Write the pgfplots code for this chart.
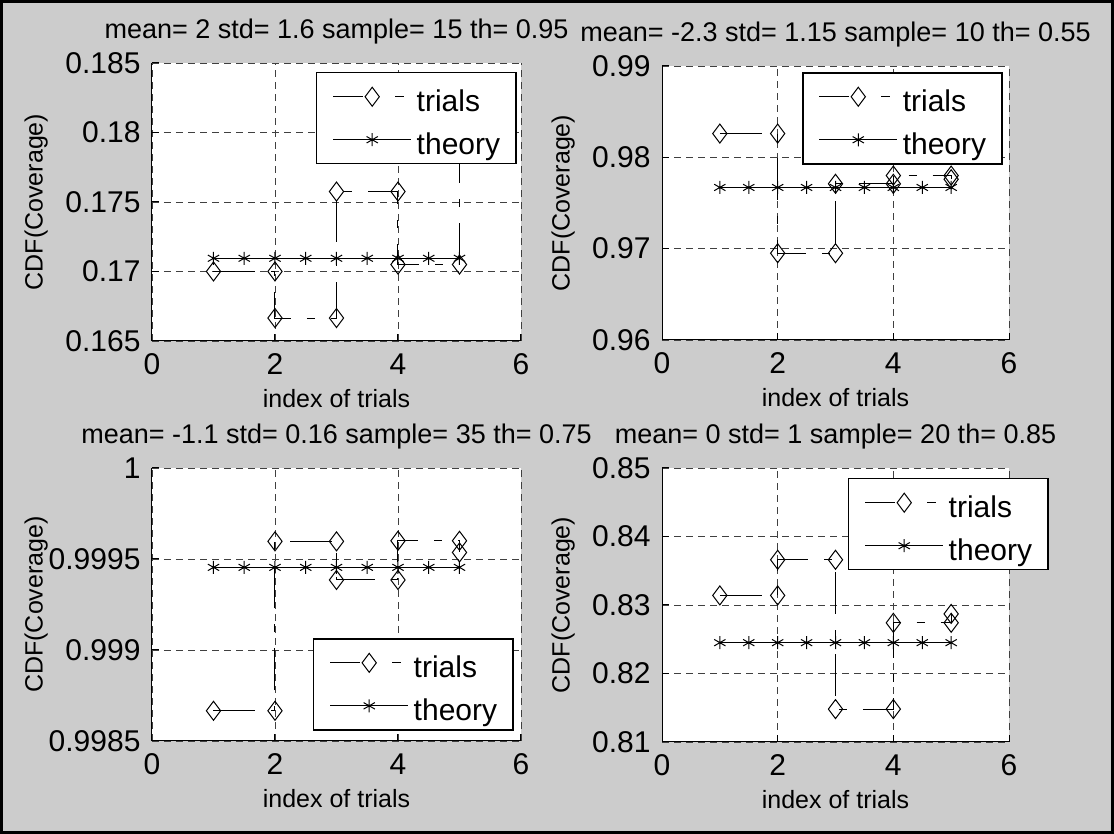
\documentclass[border=0pt]{standalone}
\usepackage{fontspec}
\setmainfont{Liberation Sans}
\usepackage{pgfplots}
\pgfplotsset{compat=1.18}

\definecolor{figbg}{RGB}{204,204,204}
\definecolor{gridc}{RGB}{64,64,64}

\newcommand{\ticksize}{\fontsize{30}{35}\selectfont}
\newcommand{\labsize}{\fontsize{25}{30}\selectfont}
\newcommand{\titsize}{\fontsize{27}{32}\selectfont}

\pgfplotsset{
  panel/.style={
    scale only axis,
    anchor=south west,
    axis background/.style={fill=white},
    xmin=0, xmax=6,
    xtick={0,2,4,6}, xticklabels={0,2,4,6},
    scaled y ticks=false,
    axis x line*=bottom, axis y line*=left,
    axis line style={-, black, line width=1pt},
    tick align=inside,
    major tick length=7pt,
    tick style={black, line width=1pt},
    grid=major,
    major grid style={gridc, line width=0.9pt, dash pattern=on 7pt off 5pt},
    tick label style={font=\ticksize},
    xticklabel style={yshift=-9pt},
    yticklabel style={xshift=-8pt},
    label style={font=\labsize},
    xlabel style={at={(axis description cs:0.5,0)}, anchor=north, yshift=-45pt},
    title style={font=\titsize, anchor=base, yshift=18pt},
    xlabel={index of trials},
    ylabel={CDF(Coverage)},
    legend cell align=left,
    legend style={
      draw=black, line width=1.5pt, fill=white,
      inner xsep=16pt, inner ysep=9pt,
      font=\ticksize,
      row sep=13pt,
      nodes={inner sep=0pt, text height=30pt, text depth=0pt},
      /tikz/every odd column/.style={column sep=5pt},
    },
  },
  leftcol/.style={ylabel style={at={(axis description cs:-0.314,0.5)}, anchor=center}},
  rightcol/.style={ylabel style={at={(axis description cs:-0.285,0.5)}, anchor=center}},
  trials/.style={
    black, line width=1pt,
    dash pattern=on 42pt off 16pt on 8pt off 16pt,
    mark=diamond, mark size=9.5pt,
    mark options={solid, line width=1pt},
    legend image code/.code={
      \draw[##1, solid] (0pt,0pt) -- (30pt,0pt);
      \draw[##1, solid] (62pt,0pt) -- (71pt,0pt);
      \draw[##1, solid] plot[only marks] coordinates {(39pt,0pt)};
    },
  },
  theory/.style={
    black, line width=1pt, solid,
    mark=asterisk, mark size=6.5pt,
    mark options={solid, line width=1pt},
    legend image code/.code={
      \draw[##1, mark repeat=2, mark phase=2]
        plot coordinates {(0pt,0pt) (39pt,0pt) (78pt,0pt)};
    },
  },
}

\begin{document}
\begin{tikzpicture}
\useasboundingbox (0pt,0pt) rectangle (1114pt,834pt);
\fill[figbg] (0pt,0pt) rectangle (1114pt,834pt);
\draw[black, line width=3pt] (1.5pt,1.5pt) rectangle (1112.5pt,832.5pt);

% upper left panel
\begin{axis}[panel, leftcol, at={(152pt,493pt)}, width=369pt, height=278pt,
  ymin=0.165, ymax=0.185, ytick={0.165,0.17,0.175,0.18,0.185},
  yticklabels={0.165,0.17,0.175,0.18,0.185},
  title={mean= 2 std= 1.6 sample= 15 th= 0.95},
  legend style={at={(0.4444,0.9676)}, anchor=north west}]
\addplot[trials] coordinates {
  (1,0.17000) (2,0.17000) (2,0.16665) (3,0.16665) (3,0.17575)
  (4,0.17575) (4,0.17050) (5,0.17050) (5,0.18100)};
\addlegendentry{trials}
\addplot[theory] coordinates {
  (1,0.17095) (1.5,0.17095) (2,0.17095) (2.5,0.17095) (3,0.17095)
  (3.5,0.17095) (4,0.17095) (4.5,0.17095) (5,0.17095)};
\addlegendentry{theory}
\end{axis}

% upper right panel
\begin{axis}[panel, rightcol, at={(662pt,494pt)}, width=347pt, height=274pt,
  ymin=0.96, ymax=0.99, ytick={0.96,0.97,0.98,0.99},
  yticklabels={0.96,0.97,0.98,0.99},
  title={mean= -2.3 std= 1.15 sample= 10 th= 0.55},
  legend style={at={(0.4035,0.978)}, anchor=north west}]
\addplot[trials] coordinates {
  (1,0.9826) (2,0.9826) (2,0.9695) (3,0.9695) (3,0.9771)
  (4,0.9771) (4,0.9780) (5,0.9780) (5,0.9776)};
\addlegendentry{trials}
\addplot[theory] coordinates {
  (1,0.9767) (1.5,0.9767) (2,0.9767) (2.5,0.9767) (3,0.9767)
  (3.5,0.9767) (4,0.9767) (4.5,0.9767) (5,0.9767)};
\addlegendentry{theory}
\end{axis}

% lower left panel
\begin{axis}[panel, leftcol, at={(152pt,93pt)}, width=369pt, height=273pt,
  ymin=0.9985, ymax=1, ytick={0.9985,0.999,0.9995,1},
  yticklabels={0.9985,0.999,0.9995,1},
  title={mean= -1.1 std= 0.16 sample= 35 th= 0.75},
  legend style={at={(0.4363,0.377)}, anchor=north west}]
\addplot[trials] coordinates {
  (1,0.998666) (2,0.998666) (2,0.999597) (3,0.999597) (3,0.999385)
  (4,0.999385) (4,0.999600) (5,0.999600) (5,0.999536)};
\addlegendentry{trials}
\addplot[theory] coordinates {
  (1,0.999454) (1.5,0.999454) (2,0.999454) (2.5,0.999454) (3,0.999454)
  (3.5,0.999454) (4,0.999454) (4.5,0.999454) (5,0.999454)};
\addlegendentry{theory}
\end{axis}

% lower right panel
\begin{axis}[panel, rightcol, at={(662pt,92pt)}, width=347pt, height=274pt,
  ymin=0.81, ymax=0.85, ytick={0.81,0.82,0.83,0.84,0.85},
  yticklabels={0.81,0.82,0.83,0.84,0.85},
  title={mean= 0 std= 1 sample= 20 th= 0.85},
  legend style={at={(0.536,0.9635)}, anchor=north west}]
\addplot[trials] coordinates {
  (1,0.8314) (2,0.8314) (2,0.8366) (3,0.8366) (3,0.8148)
  (4,0.8148) (4,0.8274) (5,0.8274) (5,0.8287)};
\addlegendentry{trials}
\addplot[theory] coordinates {
  (1,0.8245) (1.5,0.8245) (2,0.8245) (2.5,0.8245) (3,0.8245)
  (3.5,0.8245) (4,0.8245) (4.5,0.8245) (5,0.8245)};
\addlegendentry{theory}
\end{axis}
\end{tikzpicture}
\end{document}
